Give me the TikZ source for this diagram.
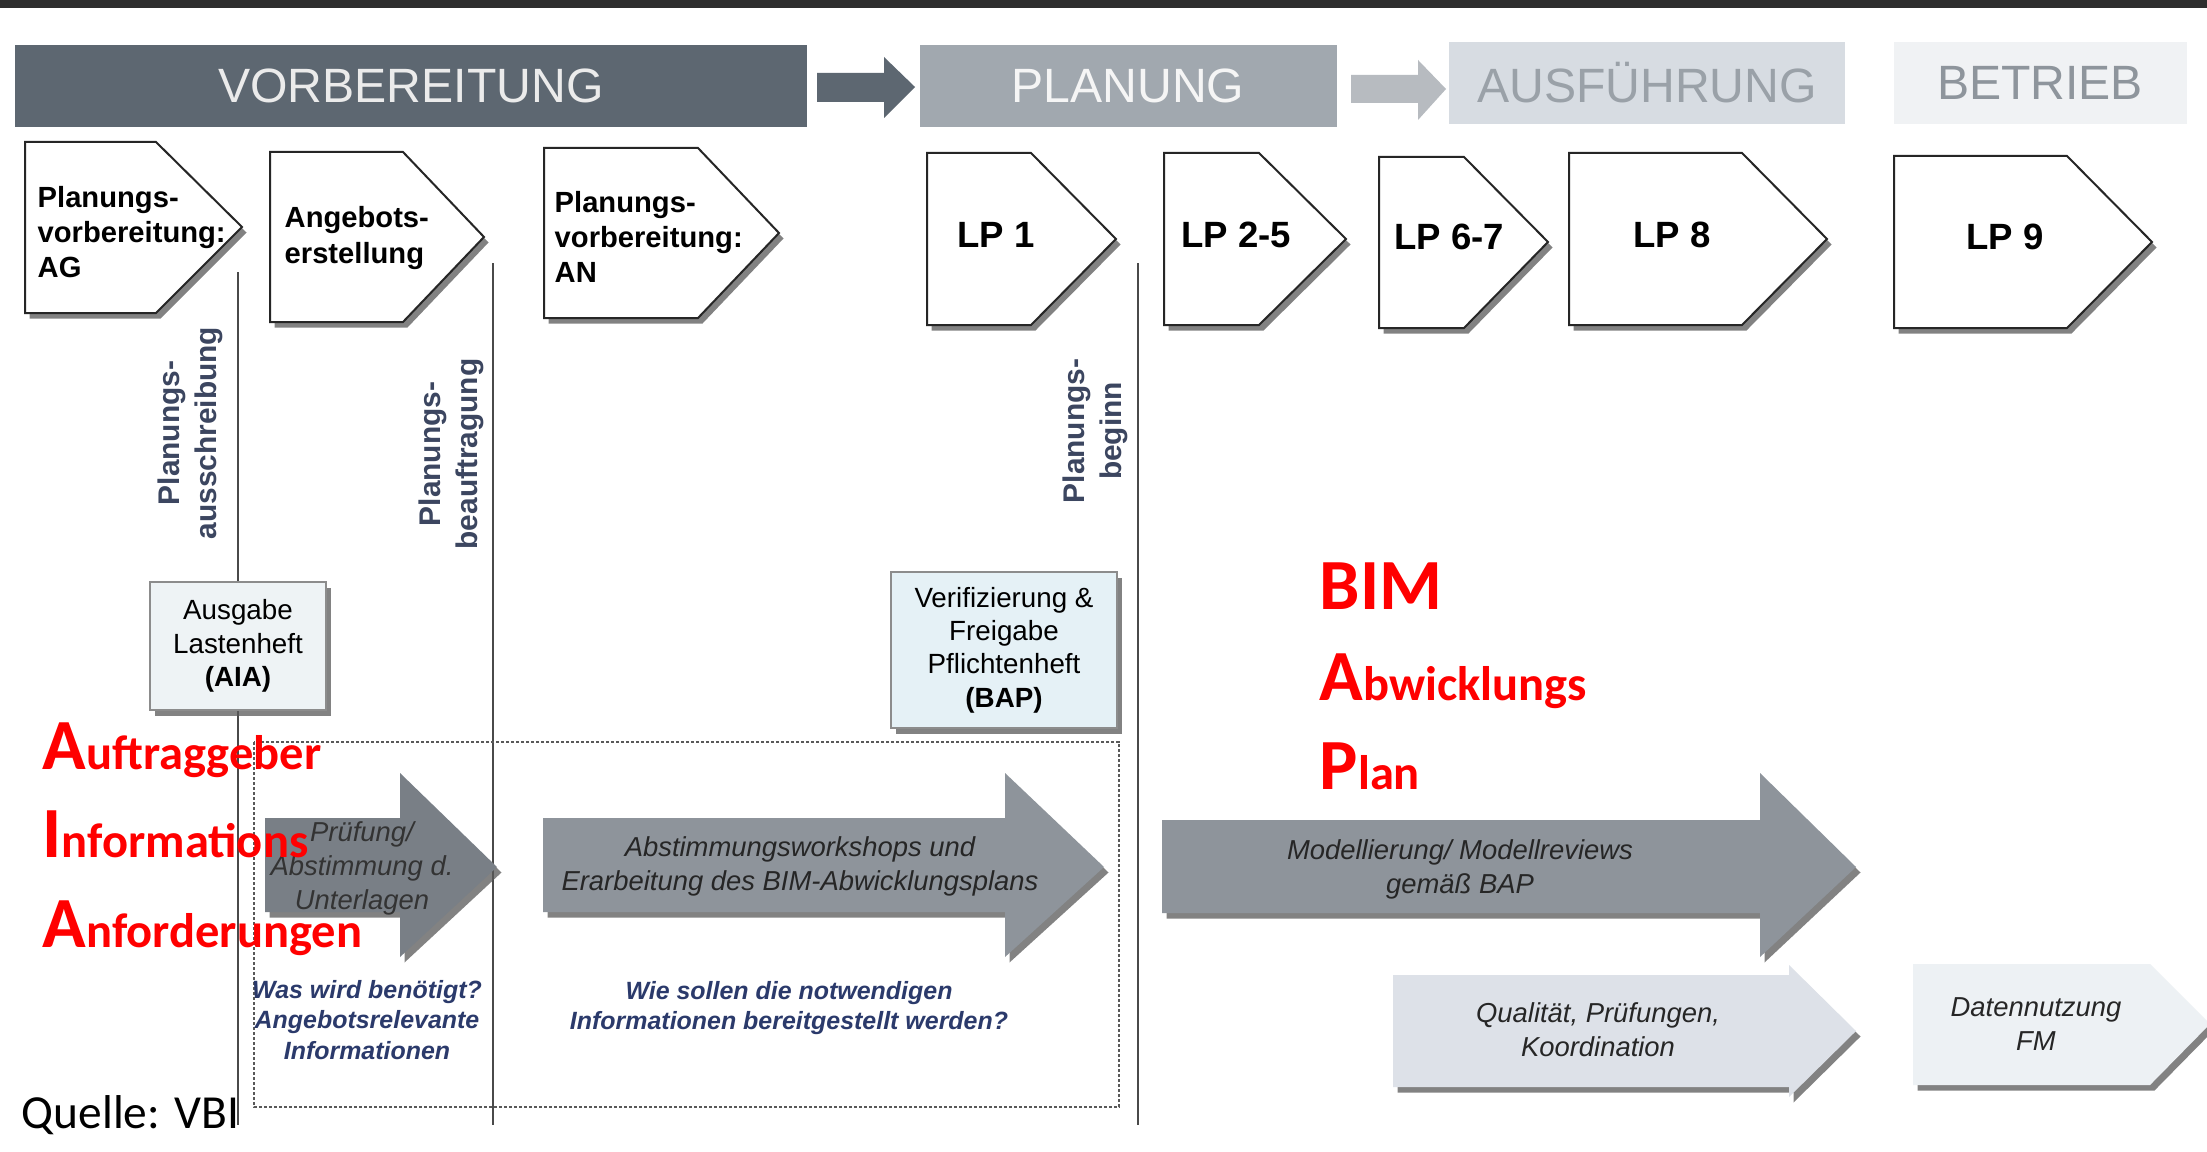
\documentclass[tikz,border=0pt]{standalone}
\usepackage{fontspec}
\setmainfont{Liberation Sans}
\newfontfamily\calibri{Carlito}
\usepackage{tikz}
\usetikzlibrary{shadows, positioning}
\definecolor{balkenVor}{HTML}{5D6771}
\definecolor{balkenPlan}{HTML}{A1A8AF}
\definecolor{balkenAus}{HTML}{D7DCE2}
\definecolor{balkenBet}{HTML}{F0F2F4}
\definecolor{schriftAus}{HTML}{9AA1A8}
\definecolor{schriftBet}{HTML}{8E959C}
\definecolor{pfeilDunkel}{HTML}{797F86}
\definecolor{pfeilMittel}{HTML}{8E949B}
\definecolor{pfeilHell}{HTML}{DDE1E8}
\definecolor{pfeilBlass}{HTML}{EDF1F4}
\definecolor{textBlau}{HTML}{2B3A6B}
\definecolor{textGrau}{HTML}{3C4660}
\definecolor{kastenHell}{HTML}{EEF3F5}
\definecolor{kastenCyan}{HTML}{E5F1F6}
\definecolor{linieGrau}{HTML}{4A4A4A}
\definecolor{rotAIA}{HTML}{FF0000}

\begin{document}
\begin{tikzpicture}[x=0.1mm, y=-0.1mm,
        phase/.style={minimum height=8.2mm, inner sep=0pt, font=\fontsize{13.7}{16}\selectfont},
        schatten/.style={drop shadow={shadow xshift=0.45mm, shadow yshift=-0.55mm, fill=black!65, opacity=0.75}},
        chev/.style={draw=black!85, line width=0.2mm, fill=white, schatten},
        chevtext/.style={align=left, anchor=west, inner sep=0pt, font=\bfseries\fontsize{8.3}{10}\selectfont},
        lptext/.style={inner sep=0pt, font=\bfseries\fontsize{10.4}{12}\selectfont},
        meilenstein/.style={rotate=90, align=center, inner sep=0pt, text=textGrau, font=\bfseries\fontsize{8.5}{10.5}\selectfont},
        kasten/.style={draw=black!45, line width=0.15mm, align=center, inner sep=0pt, font=\fontsize{7.9}{9.5}\selectfont, schatten},
        trenn/.style={linieGrau, line width=0.2mm},
        pfeil/.style={schatten},
        pfeiltext/.style={align=center, inner sep=0pt, text=black!85, font=\itshape\fontsize{7.8}{9.7}\selectfont},
        frage/.style={align=center, inner sep=0pt, text=textBlau, font=\bfseries\itshape\fontsize{7.1}{8.8}\selectfont},
        rot/.style={anchor=base west, inner sep=0pt, text=rotAIA, font=\calibri\bfseries\fontsize{13.8}{16}\selectfont}
    ]
        \fill[white] (0,0) rectangle (2207,1151);
        \useasboundingbox (0,0) rectangle (2207,1151);
        \fill[black!82] (0,0) rectangle (2207,8);

        % Phasenbalken
        \node[phase, fill=balkenVor, text=white!92!black, minimum width=79.2mm] (vor) at (411,86) {VORBEREITUNG};
        \node[phase, fill=balkenPlan, text=white!96!black, minimum width=41.7mm] (plan) at (1128,86) {PLANUNG};
        \node[phase, fill=balkenAus, text=schriftAus, minimum width=39.6mm] (aus) at (1647,83) {AUSFÜHRUNG};
        \node[phase, fill=balkenBet, text=schriftBet, minimum width=29.3mm] (bet) at (2040,83) {BETRIEB};
        \fill[balkenVor] (817,73) -- (884,73) -- (884,57) -- (915,87) -- (884,118) -- (884,102) -- (817,102) -- cycle;
        \fill[balkenAus!85!black] (1351,75) -- (1418,75) -- (1418,60) -- (1446,89) -- (1418,120) -- (1418,103) -- (1351,103) -- cycle;

        % Leistungsphasen
        \draw[chev] (25,142) -- (156,142) -- (242,227) -- (156,313) -- (25,313) -- cycle;
        \draw[chev] (270,152) -- (403,152) -- (484,237) -- (403,322) -- (270,322) -- cycle;
        \draw[chev] (544,148) -- (698,148) -- (779,233) -- (698,318) -- (544,318) -- cycle;
        \draw[chev] (927,153) -- (1031,153) -- (1116,239) -- (1031,325) -- (927,325) -- cycle;
        \draw[chev] (1164,153) -- (1259,153) -- (1346,239) -- (1259,325) -- (1164,325) -- cycle;
        \draw[chev] (1379,157) -- (1464,157) -- (1548,242) -- (1464,328) -- (1379,328) -- cycle;
        \draw[chev] (1569,153) -- (1742,153) -- (1827,239) -- (1742,325) -- (1569,325) -- cycle;
        \draw[chev] (1894,156) -- (2067,156) -- (2152,242) -- (2067,328) -- (1894,328) -- cycle;
        \node[chevtext] (pvag) at (37,232) {Planungs-\\vorbereitung:\\AG};
        \node[chevtext] (ang) at (284,238) {Angebots-\\erstellung};
        \node[chevtext] (pvan) at (554,237) {Planungs-\\vorbereitung:\\AN};
        \node[lptext] (lp1) at (996,235) {LP 1};
        \node[lptext] (lp25) at (1236,235) {LP 2-5};
        \node[lptext] (lp67) at (1449,237) {LP 6-7};
        \node[lptext] (lp8) at (1672,235) {LP 8};
        \node[lptext] (lp9) at (2005,237) {LP 9};

        % Meilensteine
        \coordinate (m1o) at (238,272);
        \coordinate (m1u) at (238,1125);
        \coordinate (m2o) at (493,263);
        \coordinate (m2u) at (493,1125);
        \coordinate (m3o) at (1138,263);
        \coordinate (m3u) at (1138,1125);
        \draw[trenn] (m1o) -- (m1u);
        \draw[trenn] (m2o) -- (m2u);
        \draw[trenn] (m3o) -- (m3u);
        \node[meilenstein] (ausschr) at (190,433) {Planungs-\\ausschreibung};
        \node[meilenstein] (beauftr) at (451,454) {Planungs-\\beauftragung};
        \node[meilenstein] (beginn) at (1095,431) {Planungs-\\beginn};

        \draw[black!65, line width=0.25mm, dash pattern=on 0.3mm off 0.2mm] (254,742) rectangle (1119,1107);

        \node[kasten, fill=kastenHell, minimum width=17.6mm, minimum height=12.8mm] (lasten) at (238,646)
            {Ausgabe\\Lastenheft\\\textbf{(AIA)}};
        \node[kasten, fill=kastenCyan, minimum width=22.6mm, minimum height=15.6mm] (pflicht) at (1004,650)
            {Verifizierung \&\\Freigabe\\Pflichtenheft\\\textbf{(BAP)}};

        % Prozesspfeile
        \fill[pfeil, pfeilDunkel] (265,818) -- (400,818) -- (400,773) -- (497,867) -- (400,957) -- (400,912) -- (265,912) -- cycle;
        \fill[pfeil, pfeilMittel] (543,818) -- (1005,818) -- (1005,773) -- (1104,867) -- (1005,957) -- (1005,912) -- (543,912) -- cycle;
        \fill[pfeil, pfeilMittel] (1162,820) -- (1760,820) -- (1760,773) -- (1856,867) -- (1760,957) -- (1760,913) -- (1162,913) -- cycle;
        \fill[pfeil, pfeilHell] (1393,975) -- (1789,975) -- (1789,965) -- (1856,1031) -- (1789,1097) -- (1789,1087) -- (1393,1087) -- cycle;
        \fill[pfeil, pfeilBlass] (1913,964) -- (2150,964) -- (2210,1024) -- (2150,1085) -- (1913,1085) -- cycle;
        \node[pfeiltext, text=black!80] (pruef) at (362,868) {Prüfung/\\Abstimmung d.\\Unterlagen};
        \node[pfeiltext] (workshops) at (800,866) {Abstimmungsworkshops und\\Erarbeitung des BIM-Abwicklungsplans};
        \node[pfeiltext] (modell) at (1460,869) {Modellierung/ Modellreviews\\gemäß BAP};
        \node[pfeiltext] (quali) at (1598,1030) {Qualität, Prüfungen,\\Koordination};
        \node[pfeiltext] (daten) at (2036,1024) {Datennutzung\\FM};

        \node[frage] (wasfrage) at (367,1020) {Was wird benötigt?\\Angebotsrelevante\\Informationen};
        \node[frage, font=\bfseries\itshape\fontsize{7.1}{8.3}\selectfont] (wiefrage) at (789,1008)
            {Wie sollen die notwendigen\\Informationen bereitgestellt werden?};

        % Abkuerzungen
        \node[rot] (aia1) at (42,769) {{\fontsize{20.5}{22}\selectfont A}uftraggeber};
        \node[rot] (aia2) at (42,857) {{\fontsize{20.5}{22}\selectfont I}nformations};
        \node[rot] (aia3) at (42,947) {{\fontsize{20.5}{22}\selectfont A}nforderungen};
        \node[rot, font=\calibri\bfseries\fontsize{20.5}{22}\selectfont] (bap1) at (1319,609) {BIM};
        \node[rot] (bap2) at (1319,700) {{\fontsize{20.5}{22}\selectfont A}bwicklungs};
        \node[rot] (bap3) at (1319,789) {{\fontsize{20.5}{22}\selectfont P}lan};

        \node[anchor=base west, inner sep=0pt, font=\calibri\fontsize{13.5}{15}\selectfont] (quelle) at (21,1128) {Quelle: VBI};
    \end{tikzpicture}
\end{document}
